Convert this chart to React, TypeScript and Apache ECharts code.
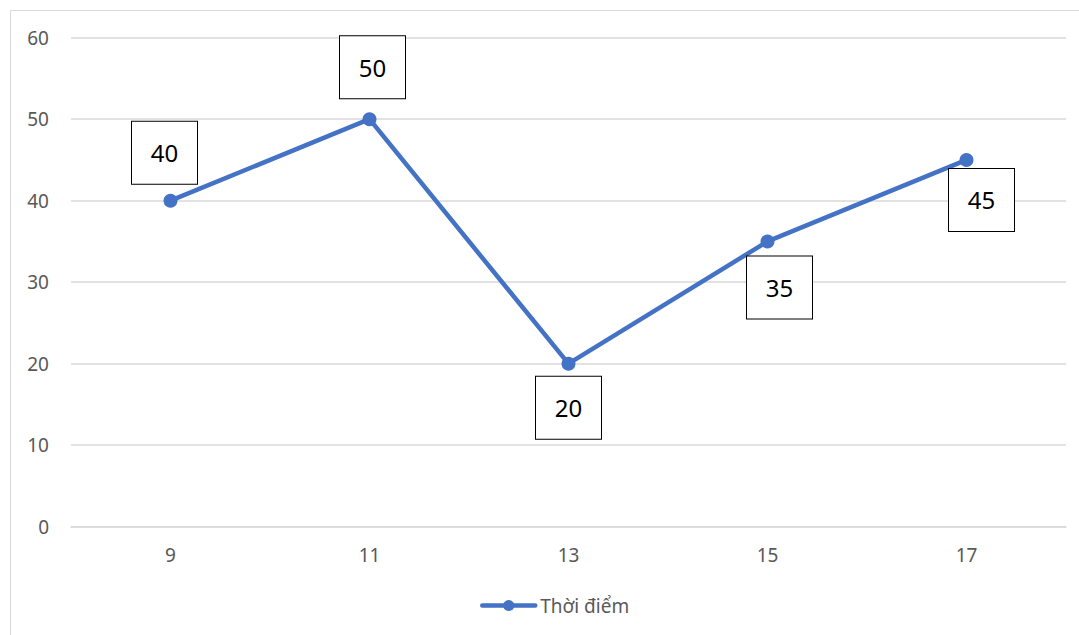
import React, { useEffect, useRef } from "react";
import * as echarts from "echarts";

const categories = ["9", "11", "13", "15", "17"];
const values = [40, 50, 20, 35, 45];
const seriesName = "Thời điểm";
const yTicks = { min: 0, max: 60, interval: 10 };
// label box placement relative to each point (styling only)
const labelOffsets: [number, number][] = [
  [-6, -48],
  [3, -52],
  [0, 44],
  [12, 46],
  [15, 40],
];

export default function App() {
  const ref = useRef<HTMLDivElement>(null);
  useEffect(() => {
    document.body.style.margin = "0";
    const chart = echarts.init(ref.current!, undefined, { renderer: "svg" });
    const font = "'Noto Sans', sans-serif";
    chart.setOption({
      animation: false,
      backgroundColor: "#ffffff",
      graphic: [
        {
          type: "rect",
          shape: { x: 10.5, y: 10.5, width: 1200, height: 800 },
          style: { fill: "none", stroke: "#d9d9d9", lineWidth: 1 },
          silent: true,
        },
      ],
      grid: { left: 71, right: 13, top: 37.7, bottom: 108.3, containLabel: false },
      xAxis: {
        type: "category",
        data: categories,
        boundaryGap: true,
        axisLine: { show: true, lineStyle: { color: "#d9d9d9", width: 1.5 } },
        axisTick: { show: false },
        axisLabel: { color: "#595959", fontSize: 19, fontFamily: font, margin: 19 },
        splitLine: { show: false },
      },
      yAxis: {
        type: "value",
        min: yTicks.min,
        max: yTicks.max,
        interval: yTicks.interval,
        axisLine: { show: false },
        axisTick: { show: false },
        axisLabel: { color: "#595959", fontSize: 19, fontFamily: font, margin: 22 },
        splitLine: { show: true, lineStyle: { color: "#d9d9d9", width: 1.5 } },
      },
      legend: {
        show: true,
        left: 475,
        top: 591,
        itemWidth: 53,
        itemHeight: 14,
        itemGap: 10,
        lineStyle: { width: 4.5, cap: "round" },
        textStyle: { color: "#595959", fontSize: 19, fontFamily: font },
        data: [seriesName],
      },
      series: [
        {
          name: seriesName,
          type: "line",
          data: values.map((v, i) => ({
            value: v,
            label: { offset: labelOffsets[i] },
          })),
          symbol: "circle",
          symbolSize: 14,
          itemStyle: { color: "#4472c4" },
          lineStyle: { color: "#4472c4", width: 4.5 },
          label: {
            show: true,
            position: "inside",
            color: "#000000",
            fontSize: 24,
            fontFamily: font,
            backgroundColor: "#ffffff",
            borderColor: "#000000",
            borderWidth: 1,
            width: 65,
            height: 62,
            lineHeight: 62,
            align: "center",
            verticalAlign: "middle",
            padding: 0,
          },
          z: 3,
        },
      ],
    });
    return () => chart.dispose();
  }, []);
  return <div ref={ref} style={{ width: 1079, height: 635 }} />;
}
